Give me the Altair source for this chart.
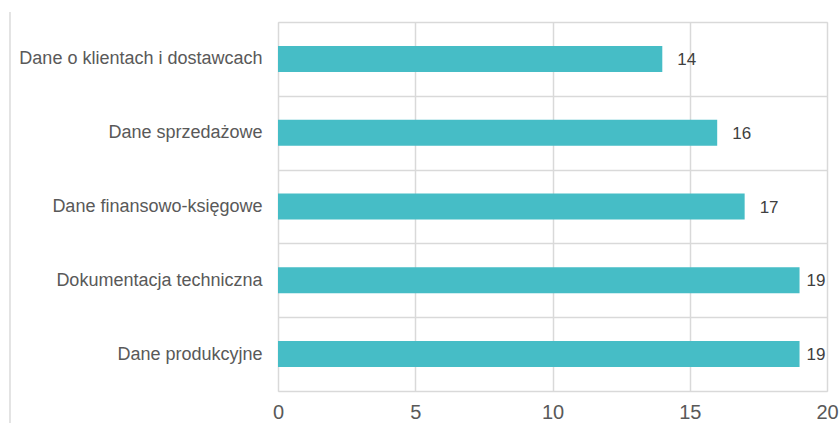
import altair as alt
import pandas as pd

categories = [
    "Dane o klientach i dostawcach",
    "Dane sprzedażowe",
    "Dane finansowo-księgowe",
    "Dokumentacja techniczna",
    "Dane produkcyjne",
]
values = [14, 16, 17, 19, 19]
x_ticks = [0, 5, 10, 15, 20]

df = pd.DataFrame({"cat": categories, "val": values})

FONT = "Liberation Sans"

y_enc = alt.Y(
    "cat:N",
    sort=categories,
    title=None,
    scale=alt.Scale(paddingInner=0, paddingOuter=0),
    axis=alt.Axis(
        grid=True,
        tickBand="extent",
        ticks=False,
        domain=False,
        gridColor="#d9d9d9",
        gridWidth=1.5,
        labelFont=FONT,
        labelFontSize=18,
        labelColor="#595959",
        labelPadding=16,
        labelLimit=300,
    ),
)

x_enc = alt.X(
    "val:Q",
    title=None,
    scale=alt.Scale(domain=[0, 20], nice=False),
    axis=alt.Axis(
        values=x_ticks,
        grid=True,
        ticks=False,
        domain=False,
        labelFlush=False,
        gridColor="#d9d9d9",
        gridWidth=1.5,
        labelFont=FONT,
        labelFontSize=20,
        labelColor="#595959",
        labelPadding=11,
    ),
)

bars = alt.Chart(df).mark_bar(color="#46BDC6", size=26).encode(x=x_enc, y=y_enc)

labels_far = alt.Chart(df).transform_filter("datum.val < 19").mark_text(
    align="left", baseline="middle", dx=15, dy=1, font=FONT, fontSize=17, color="#404040"
).encode(x="val:Q", y=alt.Y("cat:N", sort=categories), text="val:Q")

labels_near = alt.Chart(df).transform_filter("datum.val >= 19").mark_text(
    align="left", baseline="middle", dx=7, dy=1, font=FONT, fontSize=17, color="#404040"
).encode(x="val:Q", y=alt.Y("cat:N", sort=categories), text="val:Q")

border = alt.Chart(df).mark_rule(color="#e3e3e3", strokeWidth=1).encode(
    x=alt.value(-268), y=alt.value(-10), y2=alt.value(401)
)

chart = (
    alt.layer(bars, labels_far, labels_near, border)
    .properties(
        width=549,
        height=369,
        padding={"left": 278, "top": 22, "right": 12, "bottom": 32},
        autosize=alt.AutoSizeParams(type="none"),
    )
    .configure_view(stroke=None)
    .configure(background="white")
)

chart.save("out.html", embed_options={"renderer": "svg", "actions": False})
